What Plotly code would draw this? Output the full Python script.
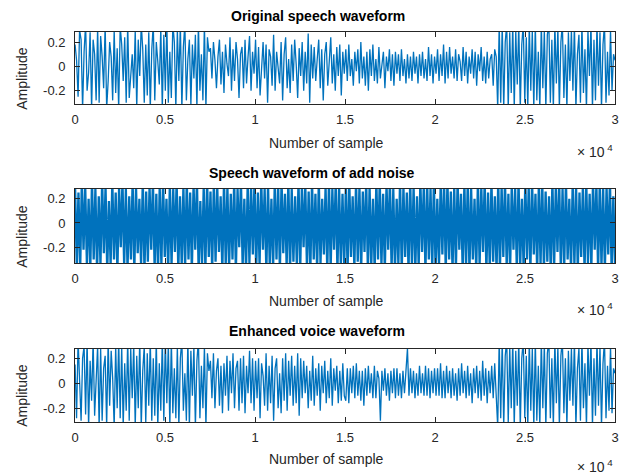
import plotly.graph_objects as go

# ---------------- data (amplitudes in units of 0.01) ----------------
n_samples = 30000

original_centi = [
    # loud start (0 - 0.75e4)
    18, 5, -25, 30, 22, -35, 12, 35, -20, -5, 28, -35, 22, 10, -28, 32, -30, 25, 8, -18,
    35, -35, -12, 20, 8, -28, 30, -22, 15, -35, 33, 18, -12, 24, -30, 35, -26, -8, 10, -18,
    30, -35, 22, -8, 35, 14, -30, 18, -24, 28, -35, 14, 35, -28, 20, 4, -15, 32, -35, 26,
    -20, 35, -30, 12, -26, 35, 20, -35, 30, -12, 35, -35, 16, 35, -28, 6, 22, -32, 18, -10,
    26, -35, 35, -20, 10, -28, 35, -35, 24, 12,
    # medium (0.75e4 - 1e4)
    15, -10, 20, 5, -18, 8, 22, -15, 12, -22, 18, 2, -8, 24, -20, 14, -12, 20, 6, -26,
    10, 16, -18, 22, -14, 8, 25, -20, 12, -6,
    # medium (1e4 - 1.5e4)
    22, -18, 16, -24, 4, 20, -10, 18, -30, 14, 8, -16, 26, -20, 12, -4, -14, 20, -28, 10,
    24, -18, 6, -22, 18, -12, 22, 2, -26, 15, -8, 20, -20, 12, -14, 27, -30, 18, -10, 16,
    -12, 6, 22, -18, 14, -28, 10, 20, -16, 4, 24, -14, 10, -20, 16, -8, 18, -24, 12, -6,
    # quieter (1.5e4 - 2.35e4)
    14, -12, 18, -8, 6, -16, 12, -4, 14, -14, 20, -10, 8, -16, 12, -20, 14, -8, 18, -12,
    6, -14, 16, -10, 2, 12, -18, 8, -4, 14, -12, 10, -16, 12, -6, 10, -12, 14, -8, 6,
    -14, 10, -10, 8, -12, 12, -6, 8, -14, 10, -8, 12, -10, 6, -12, 16, -8, 10, -14, 8,
    -6, 14, -12, 10, -8, 18, -14, 12, -10, 16, -6, 8, -10, 14, -12, 10, 4, -12, 16, -8,
    12, -14, 8, -6, 14, -10, 12, -16, 10, -4, 16, -12, 8, -14, 12, -10, 6, 10, -16, 14, 8,
    # loud end (2.35e4 - 3e4)
    -35, 35, -30, 35, -35, 20, 35, -35, 28, -22, 35, -35, 30, -15, 35, -35, 18, 35, -30, 24,
    -35, 35, -20, 30, -35, 35, -28, 12, -35, 35, -18, 30, -35, 26, 35, -30, 22, -35, 35, -14,
    32, -35, 20, 35, -26, 18, -35, 28, -12, 30, -20, 35, -35, 10, 26, -30, 35, -22, 14, -35,
    30, -8, 35, -35, 22, -28, 35, -16, 28, -35, 18, 35, -30, 12, -24, 30, -20, 10, 5,
]

noisy_centi = [
    30, -35, 25, -40, 35, -22, 30, -35, 20, -38, 35, -30, 28, -40, 22, -35, 35, -25, 30, -40,
    18, -35, 35, -30, 25, -40, 30, -20, 35, -35, 28, -38, 22, -30, 35, -40, 30, -25, 20, -35,
    35, -40, 26, -32, 30, -22, 35, -38, 24, -40, 30, -35, 35, -28, 20, -40, 33, -35, 28, -24,
    35, -40, 22, -35, 30, -38, 35, -30, 25, -40, 32, -22, 35, -40, 18, -35, 30, -38, 35, -28,
    26, -40, 35, -32, 30, -24, 22, -40, 35, -35, 30, -38, 24, -30, 35, -40, 28, -20, 35, -36,
    20, -40, 34, -33, 30, -26, 35, -40, 25, -35, 35, -22, 28, -40, 32, -35, 20, -38, 35, -30,
    30, -40, 35, -25, 24, -36, 35, -40, 28, -32, 22, -35, 35, -40, 30, -20, 33, -38, 26, -40,
    35, -30, 24, -40, 35, -34, 20, -26, 30, -40, 35, -38, 28, -22, 35, -40, 30, -35, 24, -36,
    32, -40, 35, -28, 22, -38, 35, -32, 30, -40, 26, -24, 35, -40, 30, -36, 20, -40, 35, -30,
    35, -35, 24, -40, 32, -22, 35, -38, 28, -40, 20, -34, 35, -40, 30, -28, 25, -40, 35, -35,
    30, -40, 22, -36, 35, -24, 30, -40, 35, -30, 28, -38, 35, -40, 20, -35, 32, -26, 35, -40,
    35, -30, 26, -40, 30, -38, 35, -22, 24, -40, 33, -36, 35, -40, 28, -30, 20, -40, 35, -35,
    30, -24, 35, -40, 25, -38, 35, -32, 22, -40, 35, -40, 30, -28, 35, -36, 24, -40, 32, -22,
    28, -40, 35, -35, 20, -38, 35, -30, 30, -40, 35, -26, 24, -40, 33, -35, 35, -40, 26, -32,
    22, -40, 35, -38, 30, -24, 35, -40, 28, -36, 35, -30, 20, -40, 34, -35, 30, -40, 25, -28,
    30, -40, 35, -33, 24, -38, 35, -22, 32, -40, 35, -36, 28, -40, 30, -26, 35, -40, 22, -35,
]

enhanced_centi = [
    # loud start
    15, -28, 35, 2, -30, 20, 30, -25, 35, -35, 18, -14, 35, -26, 8, 30, -35, 28, -30, 12,
    22, -35, 35, -18, 26, 4, -35, 30, -20, 35, -28, 30, -35, 16, -22, 35, -30, 28, -12, 32,
    -35, 22, -20, 35, -35, 10, 30, -32, 24, -18, 35, -30, 20, -26, 35, -35, 16, -22, 35, -30,
    35, -16, 32, -35, 35, -24, 12, -28, 30, -35, 20, 35, -22, 8, -30, 35, -35, 26, -10, 30,
    -35, 18, 35, -28, 14, -20, 30, -35, 24, 10,
    # medium
    18, -12, 24, -20, 10, 20, -18, 14, -24, 16, -10, 22, -22, 18, -8, 24, -20, 12, 18, -22,
    20, -16, 22, -24, 14, -8, 26, -16, 20, -22,
    18, -12, 20, -28, 16, 6, -18, 24, -22, 14, -16, 22, -30, 12, 20, -20, 8, -24, 20, -14,
    24, -22, 18, -10, 22, -18, 14, -16, 24, -26, 20, -12, 18, -8, 14, -20, 10, -14, 22, -18,
    12, -10, 16, -22, 14, -8, 18, -16, 10, -12, 20, -18, 12, -6, 14, -16, 10, -14, 16, -10,
    # quieter
    -14, 12, -16, 12, -8, 14, -12, 16, -10, 10, -14, 10, -18, 12, -10, 14, -8, 8, -12, 14,
    -12, 10, 4, -30, 10, -6, 12, -10, 8, -14, 10, -8, 12, -12, 12, -10, 8, -12, 10, -8,
    10, 28, -10, 12, -8, 10, -12, 8, -10, 14, -8, 8, -10, 14, -10, 12, -12, 10, -8, 12,
    -10, 12, -10, 16, -12, 10, -12, 14, -8, 10, -12, 12, -10, 8, -14, 12, -10, 16, -8, 10,
    -12, 14, -10, 8, -16, 12, -8, 14, -12, 10, -14, 18, -10, 12, -16, 10, -8, 14, -12, 16, -10,
    # loud end
    -35, 35, -28, 35, -35, 22, 35, -32, 30, -20, 35, -35, 26, -18, 35, -35, 20, 35, -28, 22,
    -35, 35, -22, 28, -35, 35, -30, 14, -35, 35, -20, 32, -35, 24, 35, -28, 20, -35, 35, -16,
    30, -35, 22, 35, -24, 20, -35, 26, -14, 28, -18, 35, -35, 12, 28, -30, 35, -20, 16, -35,
    32, -10, 35, -35, 20, -26, 35, -18, 30, -35, 16, 35, -28, 14, -22, 30, -24, 12, 8,
]

x_tick_vals = [0, 5000, 10000, 15000, 20000, 25000, 30000]
x_tick_text = ["0", "0.5", "1", "1.5", "2", "2.5", "3"]
y_tick_vals = [-0.2, 0, 0.2]
y_tick_text = ["-0.2", "0", "0.2"]

panel_titles = ["Original speech waveform", "Speech waveform of add noise",
                "Enhanced voice waveform"]
y_ranges = [[-0.31, 0.283], [-0.33, 0.28], [-0.31, 0.275]]
series = [original_centi, noisy_centi, enhanced_centi]
line_widths = [1.3, 2.3, 1.3]

# ---------------- layout geometry ----------------
W, H = 621, 475
x_left, x_right = 72, 619
panels_px = [(32, 104), (189, 263), (349, 422)]  # top, bottom in px
title_y = [16, 173, 331]
title_cx = [318, 312, 317]
xlabel_y = [143, 301, 459]
xlabel_cx = 327
ylabel_y = [79, 237, 396]
exp_y = [151, 309, 466]

LINE = "#0072BD"
AX = "#262626"
FONT = "Liberation Sans, Arial, Helvetica, sans-serif"

fig = go.Figure()
annotations = []
layout = dict(
    width=W, height=H,
    margin=dict(l=0, r=0, t=0, b=0),
    paper_bgcolor="white", plot_bgcolor="white",
    showlegend=False,
    font=dict(family=FONT, color=AX, size=13),
)

for k in range(3):
    vals = series[k]
    n = len(vals)
    xs = [i * n_samples / (n - 1) for i in range(n)]
    ys = [v / 100 for v in vals]
    sfx = "" if k == 0 else str(k + 1)
    fig.add_trace(go.Scatter(x=xs, y=ys, mode="lines",
                             line=dict(color=LINE, width=line_widths[k]),
                             xaxis="x" + sfx, yaxis="y" + sfx,
                             hoverinfo="skip"))
    top, bot = panels_px[k]
    layout["xaxis" + sfx] = dict(
        domain=[x_left / W, x_right / W], anchor="y" + sfx,
        range=[0, n_samples], tickvals=x_tick_vals, ticktext=x_tick_text,
        ticks="inside", ticklen=5, tickcolor=AX, tickwidth=1,
        showline=True, linecolor=AX, linewidth=1, mirror="ticks",
        showgrid=False, zeroline=False, ticklabelstandoff=3,
        ticklabeloverflow="allow",
        tickfont=dict(size=13, color=AX, family=FONT),
    )
    layout["yaxis" + sfx] = dict(
        domain=[1 - bot / H, 1 - top / H], anchor="x" + sfx,
        range=y_ranges[k], tickvals=y_tick_vals, ticktext=y_tick_text,
        ticks="inside", ticklen=5, tickcolor=AX, tickwidth=1,
        showline=True, linecolor=AX, linewidth=1, mirror="ticks",
        showgrid=False, zeroline=False, ticklabelstandoff=6,
        tickfont=dict(size=13, color=AX, family=FONT),
    )
    annotations.append(dict(text="<b>" + panel_titles[k] + "</b>", xref="paper", yref="paper",
                            x=title_cx[k] / W, y=1 - title_y[k] / H, xanchor="center", yanchor="middle",
                            showarrow=False, font=dict(size=14, color="#000000", family=FONT)))
    annotations.append(dict(text="Number of sample", xref="paper", yref="paper",
                            x=xlabel_cx / W, y=1 - xlabel_y[k] / H, xanchor="center", yanchor="middle",
                            showarrow=False, font=dict(size=14, color=AX, family=FONT)))
    annotations.append(dict(text="Amplitude", xref="paper", yref="paper", textangle=-90,
                            x=18 / W, y=1 - ylabel_y[k] / H, xanchor="center", yanchor="middle",
                            showarrow=False, font=dict(size=14, color=AX, family=FONT)))
    annotations.append(dict(text="× 10<sup> 4</sup>", xref="paper", yref="paper",
                            x=578 / W, y=1 - exp_y[k] / H, xanchor="left", yanchor="middle",
                            showarrow=False, font=dict(size=14, color=AX, family=FONT)))

layout["annotations"] = annotations
fig.update_layout(**layout)
fig.write_html("out.html")
